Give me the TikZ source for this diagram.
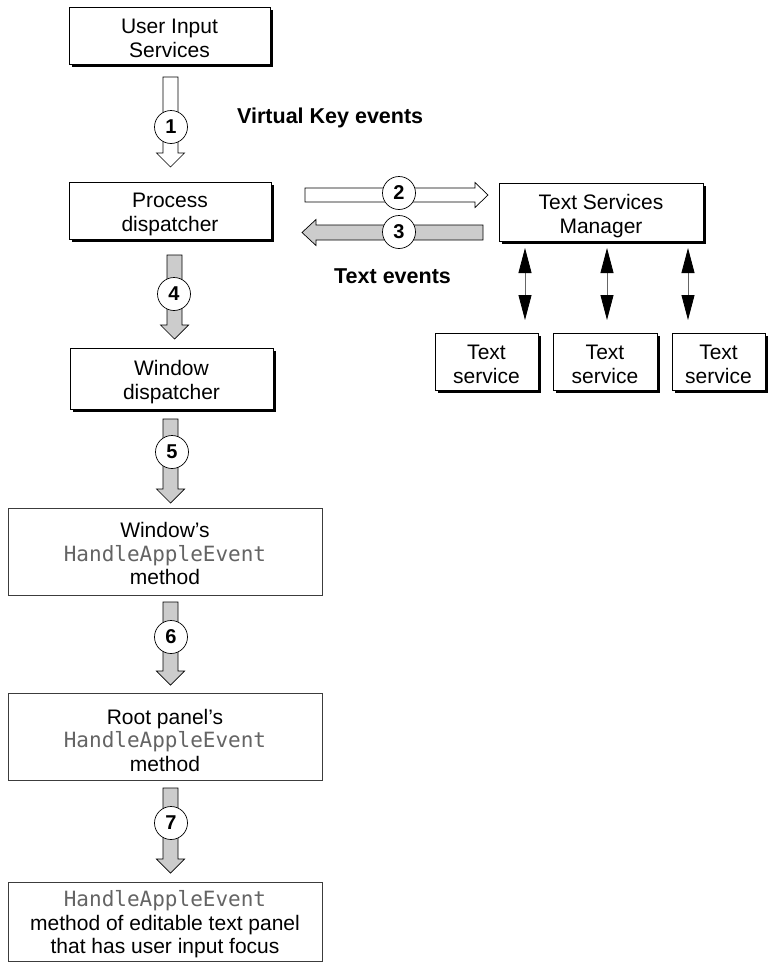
\documentclass[tikz,border=0pt]{standalone}
\usepackage{fontspec}
\setmainfont{Liberation Sans}
\newfontfamily\codefont{DejaVu Sans Mono}
\usetikzlibrary{shadows,arrows.meta}
\definecolor{arrowgray}{RGB}{204,204,204}
\definecolor{codegray}{RGB}{100,100,100}
\definecolor{framegray}{RGB}{60,60,60}
\newcommand\code[1]{{\codefont\color{codegray}#1}}
\newcommand\varrow[4]{%
  \draw[fill=#1, draw=black, line width=0.7pt, line join=miter]
    (#2-7.5,#3) -- (#2+7.5,#3) -- (#2+7.5,#4-14) -- (#2+14,#4-14) -- (#2,#4)
    -- (#2-14,#4-14) -- (#2-7.5,#4-14) -- cycle;}
\newcommand\rarrow[4]{%
  \draw[fill=#1, draw=black, line width=0.7pt, line join=miter]
    (#3,#2-7) -- (#4-13,#2-7) -- (#4-13,#2-12.5) -- (#4,#2) -- (#4-13,#2+12.5)
    -- (#4-13,#2+7) -- (#3,#2+7) -- cycle;}
\newcommand\larrow[4]{%
  \draw[fill=#1, draw=black, line width=0.7pt, line join=miter]
    (#3,#2-7.5) -- (#4+14,#2-7.5) -- (#4+14,#2-13) -- (#4,#2) -- (#4+14,#2+13)
    -- (#4+14,#2+7.5) -- (#3,#2+7.5) -- cycle;}
\begin{document}
\begin{tikzpicture}[x=1pt,y=-1pt,
  txt/.style={font=\fontsize{21}{23.5}\selectfont, align=center, inner sep=0pt, yshift=-3pt},
  shbox/.style={draw=black, fill=white, line width=0.8pt, inner sep=0pt,
    drop shadow={shadow xshift=3pt, shadow yshift=-3pt, fill=black, opacity=1}},
  thinbox/.style={draw=framegray, fill=white, line width=0.8pt, inner sep=0pt},
  numcirc/.style={circle, draw=black, fill=white, line width=0.7pt, minimum size=33pt,
    inner sep=0pt, font=\bfseries\fontsize{20}{20}\selectfont},
  evlabel/.style={font=\bfseries\fontsize{21.5}{21.5}\selectfont, inner sep=0pt, anchor=base west},
  biarrow/.style={draw=black!60, line width=0.8pt,
    {Triangle[length=25pt,width=13pt,fill=black,color=black]}-{Triangle[length=25pt,width=13pt,fill=black,color=black]}}
]
\useasboundingbox (0,0) rectangle (768,964);

% boxes with shadow
\node[shbox, minimum width=201pt, minimum height=57pt] (uis) at (169.5,35.5) {};
\node[txt] (uist) at (uis) {User Input\\Services};
\node[shbox, minimum width=202pt, minimum height=57pt] (pd) at (170,210.5) {};
\node[txt, yshift=-1pt] (pdt) at (pd) {Process\\dispatcher};
\node[shbox, minimum width=203pt, minimum height=61pt] (wd) at (171.5,378.5) {};
\node[txt, yshift=-0.5pt] (wdt) at (wd) {Window\\dispatcher};
\node[shbox, minimum width=204pt, minimum height=58pt] (tsm) at (601,212) {};
\node[txt, yshift=-1pt] (tsmt) at (tsm) {Text Services\\Manager};
\node[shbox, minimum width=103pt, minimum height=57pt] (ts1) at (486.5,361.5) {};
\node[txt] (ts1t) at (ts1) {Text\\service};
\node[shbox, minimum width=104pt, minimum height=57pt] (ts2) at (605,361.5) {};
\node[txt] (ts2t) at (ts2) {Text\\service};
\node[shbox, minimum width=93pt, minimum height=57pt] (ts3) at (718.5,361.5) {};
\node[txt] (ts3t) at (ts3) {Text\\service};

% thin boxes
\node[thinbox, minimum width=314pt, minimum height=87pt] (wh) at (165,551.5) {};
\node[txt, yshift=1pt] (wht) at (wh) {Window's\\\code{HandleAppleEvent}\\method};
\node[thinbox, minimum width=314pt, minimum height=87pt] (rp) at (165,736.5) {};
\node[txt, yshift=-0.5pt] (rpt) at (rp) {Root panel's\\\code{HandleAppleEvent}\\method};
\node[thinbox, minimum width=314pt, minimum height=79pt] (et) at (165,921.5) {};
\node[txt] (ett) at (et) {\code{HandleAppleEvent}\\method of editable text panel\\that has user input focus};

% block arrows
\varrow{white}{170.5}{77}{167}
\rarrow{white}{195}{305}{488}
\larrow{arrowgray}{232.5}{483}{302}
\varrow{arrowgray}{174.5}{255}{339}
\varrow{arrowgray}{170.5}{419}{503}
\varrow{arrowgray}{170.5}{602}{685}
\varrow{arrowgray}{170.5}{788}{873}

% number circles
\node[numcirc] (c1) at (171,127) {1};
\node[numcirc] (c2) at (399,193) {2};
\node[numcirc] (c3) at (399,232) {3};
\node[numcirc] (c4) at (174,294) {4};
\node[numcirc] (c5) at (172,452) {5};
\node[numcirc] (c6) at (171,637) {6};
\node[numcirc] (c7) at (171,823) {7};

% labels
\node[evlabel] (vk) at (237,123) {Virtual Key events};
\node[evlabel] (te) at (334,283) {Text events};

% bidirectional arrows
\coordinate (a1t) at (525,248); \coordinate (a1b) at (525,320);
\coordinate (a2t) at (607,248); \coordinate (a2b) at (607,320);
\coordinate (a3t) at (688,248); \coordinate (a3b) at (688,320);
\draw[biarrow] (a1t) -- (a1b);
\draw[biarrow] (a2t) -- (a2b);
\draw[biarrow] (a3t) -- (a3b);
\end{tikzpicture}
\end{document}
